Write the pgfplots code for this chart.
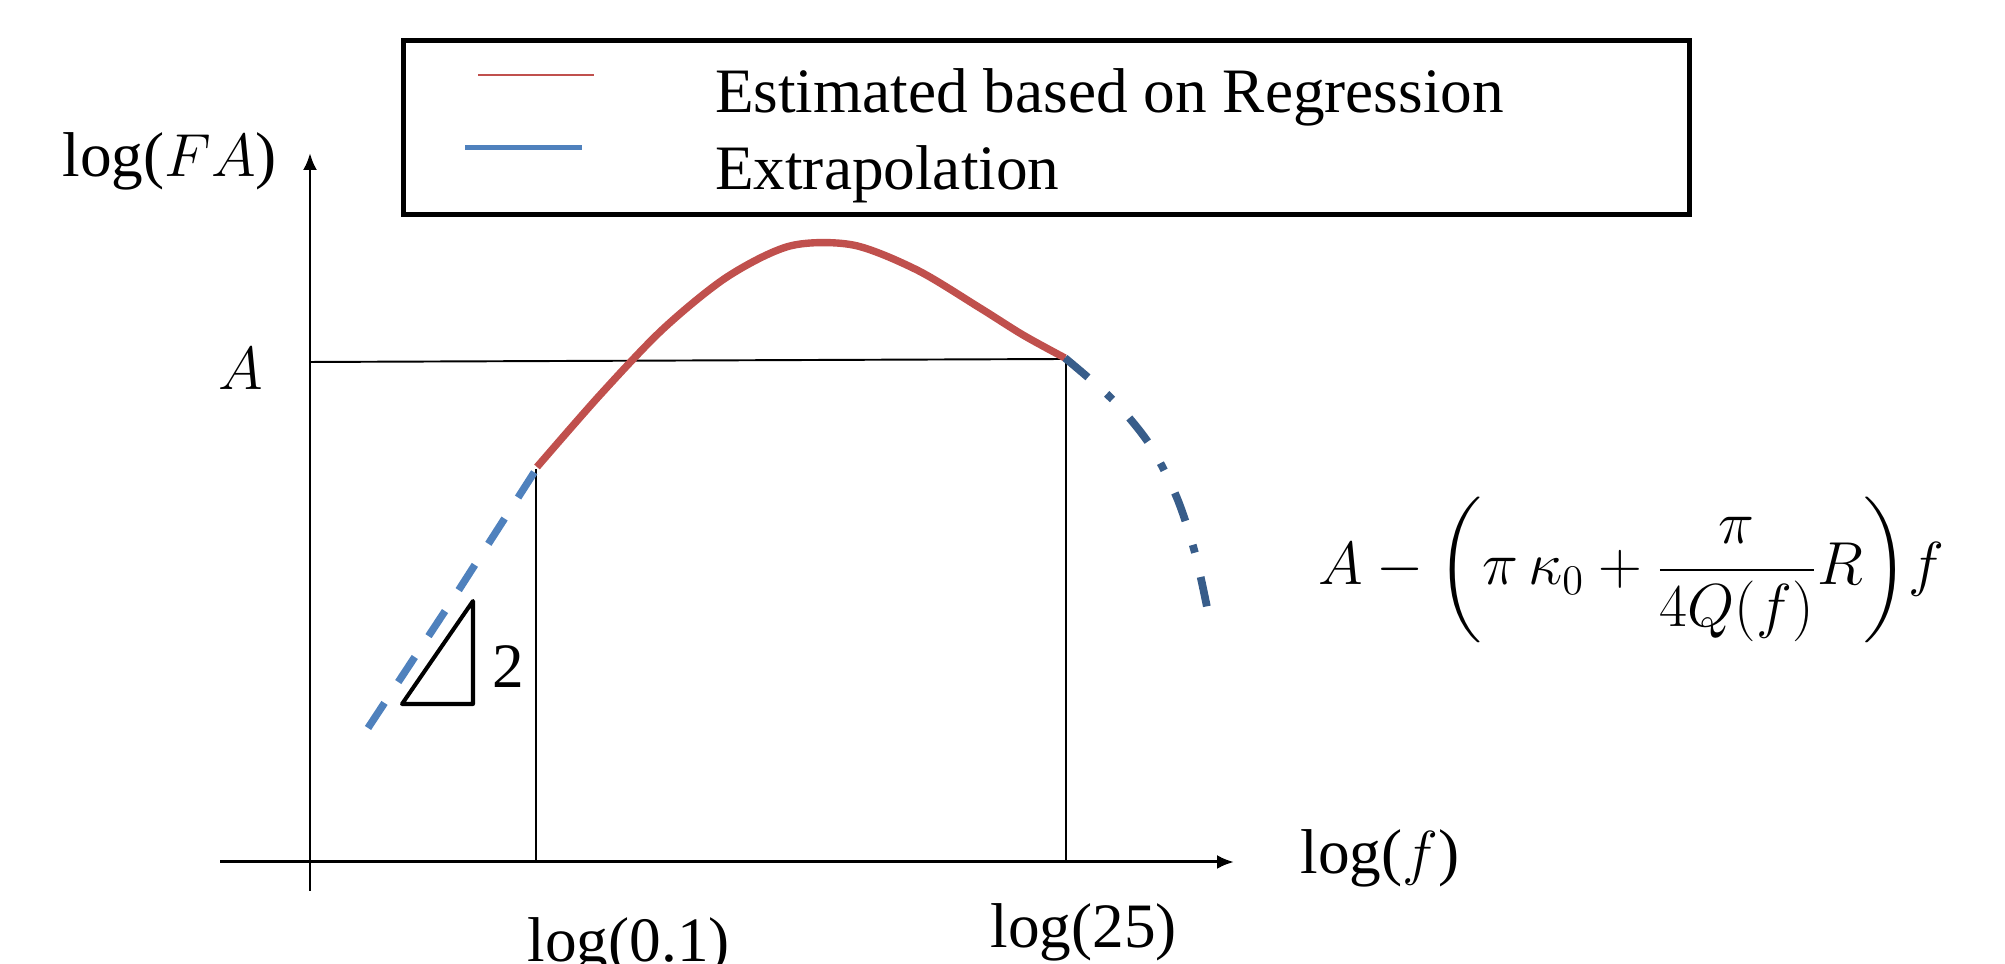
\documentclass[border=0pt]{standalone}
\usepackage{amsmath}
\usepackage{fontspec}
\setmainfont{Liberation Serif}
\usepackage{pgfplots}
\pgfplotsset{compat=1.18}
\usetikzlibrary{arrows.meta}
\definecolor{regred}{HTML}{C0504D}
\definecolor{extblue}{HTML}{4F81BD}
\definecolor{extdark}{HTML}{385D8A}
\newcommand{\lbl}{\fontsize{18}{22}\selectfont}
\pgfplotsset{
  redleg/.style={legend image code/.code={\draw[regred, line width=0.6pt] (1.3mm,1.35mm) -- (12.9mm,1.35mm);}},
  blueleg/.style={legend image code/.code={\draw[extblue, line width=1.45pt] (0mm,1.85mm) -- (11.7mm,1.85mm);}},
}
\begin{document}
\begin{tikzpicture}
\begin{axis}[
  width=200.5mm, height=96.4mm, scale only axis,
  xmin=0, xmax=2005, ymin=0, ymax=964,
  hide axis, clip=false,
  legend cell align=left,
  legend style={
    at={(axis cs:401,926)}, anchor=north west,
    draw=black, line width=1.4pt, fill=white,
    inner xsep=5.9mm, inner ysep=1.0mm,
    row sep=0pt,
    nodes={inner sep=0pt, text height=6.2mm, text depth=1.5mm, font=\lbl},
    /tikz/every odd column/.append style={column sep=12mm},
  },
]
% legend
\addlegendimage{redleg}
\addlegendentry{\makebox[91.5mm][l]{Estimated based on Regression}}
\addlegendimage{blueleg}
\addlegendentry{\makebox[91.5mm][l]{Extrapolation}}

% axes
\addplot[forget plot, black, line width=0.85pt, -{Latex[length=1.7mm,width=1.4mm]}]
  coordinates {(310,73) (310,811)};
\addplot[forget plot, black, line width=0.85pt, -{Latex[length=1.7mm,width=1.4mm]}]
  coordinates {(220,102) (1234,102)};

% reference lines
\addplot[forget plot, black, line width=0.55pt] coordinates {(310,602) (1066,605)};
\addplot[forget plot, black, line width=0.55pt] coordinates {(536,495) (536,102)};
\addplot[forget plot, black, line width=0.55pt] coordinates {(1066,606) (1066,102)};

% extrapolation (left), slope 2
\addplot[forget plot, extblue, line width=2.1pt, dash pattern=on 8.54pt off 7.11pt]
  coordinates {(368,236) (453,365) (537,496)};

% regression estimate
\addplot[forget plot, regred, line width=2.1pt, smooth]
  coordinates {(537,497) (600,569) (663,635) (727,687) (790,718) (853,719)
               (917,694) (980,656) (1023,629) (1065,606)};

% extrapolation (right)
\addplot[forget plot, extdark, line width=2.2pt, smooth,
  dash pattern=on 8.54pt off 7.11pt on 2.3pt off 7.11pt]
  coordinates {(1065,606) (1113,564) (1150,519) (1177,466) (1195,411) (1208,352)};

% slope triangle
\addplot[forget plot, black, line width=1.15pt, line join=round]
  coordinates {(402,260) (473,260) (473,363)} -- cycle;

% labels
\node[anchor=base west, font=\lbl, inner sep=0pt] at (axis cs:62,787) {log($FA$)};
\node[anchor=base west, font=\lbl, inner sep=0pt] at (axis cs:218,574) {$A$};
\node[anchor=base west, font=\lbl, inner sep=0pt] at (axis cs:1300,90) {log($f$)};
\node[anchor=base west, font=\lbl, inner sep=0pt] at (axis cs:990,16) {log(25)};
\node[anchor=base west, font=\lbl, inner sep=0pt] at (axis cs:527,2) {log(0.1)};
\node[anchor=center, font=\lbl, inner sep=0pt] at (axis cs:508,297) {2};
\node[anchor=base west, font=\fontsize{18}{22}\selectfont, inner sep=0pt] at (axis cs:1318,379)
  {$A-\biggl(\pi\,\kappa_0+\dfrac{\pi}{4Q(f)}R\biggr)f$};

\coordinate (BL) at (axis cs:0,0);
\coordinate (TR) at (axis cs:2005,964);
\end{axis}
\pgfresetboundingbox
\useasboundingbox (BL) rectangle (TR);
\end{tikzpicture}
\end{document}
